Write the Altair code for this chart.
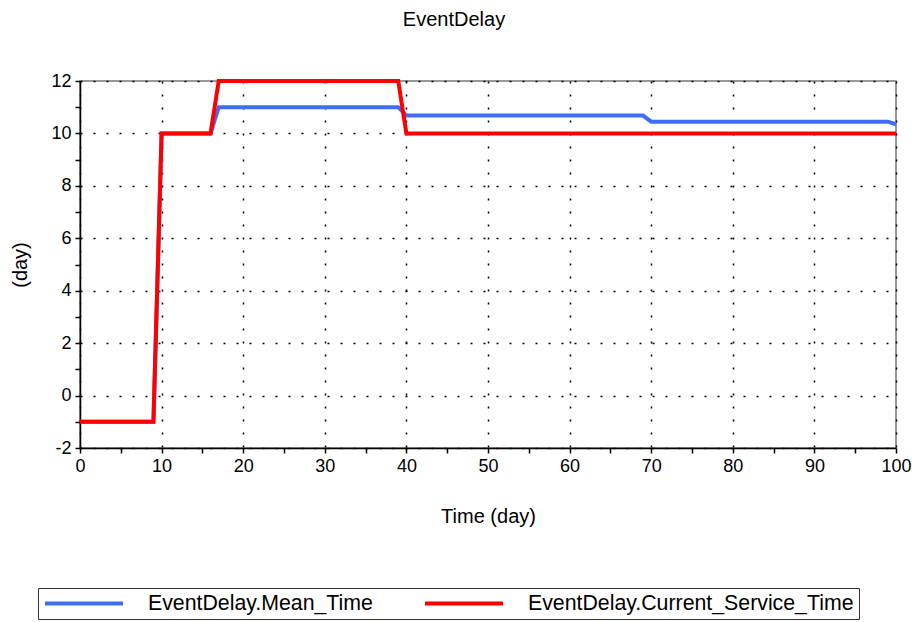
import altair as alt
import pandas as pd

# data
mean_t = [0, 9, 10, 16, 17, 39, 40, 69, 70, 99, 100]
mean_v = [-1, -1, 10, 10, 11, 11, 10.68, 10.68, 10.45, 10.45, 10.35]
cur_t = [0, 9, 10, 16, 17, 39, 40, 100]
cur_v = [-1, -1, 10, 10, 12, 12, 10, 10]
series = ["EventDelay.Mean_Time", "EventDelay.Current_Service_Time"]
colors = ["#3d6ef5", "#ff0000"]
x_ticks = list(range(0, 101, 5))
y_ticks = list(range(-2, 13, 1))

rows = [{"t": t, "v": v, "s": series[0], "o": i} for i, (t, v) in enumerate(zip(mean_t, mean_v))]
rows += [{"t": t, "v": v, "s": series[1], "o": i} for i, (t, v) in enumerate(zip(cur_t, cur_v))]
df = pd.DataFrame(rows)

FONT = "Liberation Sans"

chart = alt.Chart(df).mark_line(strokeWidth=4).encode(
    x=alt.X("t:Q", scale=alt.Scale(domain=[0, 100], nice=False),
            axis=alt.Axis(values=x_ticks, title="Time (day)",
                          labelExpr="datum.value % 10 === 0 ? toString(datum.value) : ''",
                          gridOpacity={"condition": {"test": "datum.value % 10 === 0", "value": 1}, "value": 0},
                          labelFlush=False, titlePadding=31)),
    y=alt.Y("v:Q", scale=alt.Scale(domain=[-2, 12], nice=False),
            axis=alt.Axis(values=y_ticks, title="(day)",
                          labelExpr="datum.value % 2 === 0 ? toString(datum.value) : ''",
                          gridOpacity={"condition": {"test": "datum.value % 2 === 0", "value": 1}, "value": 0},
                          labelFlush=False, titlePadding=20)),
    color=alt.Color("s:N", scale=alt.Scale(domain=series, range=colors),
                    legend=alt.Legend(title=None, orient="none", legendX=-42, legendY=507,
                                      direction="horizontal", symbolType="stroke",
                                      symbolSize=6084, symbolStrokeWidth=4, clipHeight=21,
                                      labelOffset=23, columnPadding=50, labelLimit=0,
                                      labelFontSize=21.3, labelFont=FONT, labelColor="black",
                                      strokeColor="#333", padding=5)),
    order="o:Q",
).properties(
    width=816, height=367,
    title=alt.TitleParams("EventDelay", fontSize=20, font=FONT, fontWeight="normal",
                          dx=-34, offset=42),
    autosize=alt.AutoSizeParams(type="none"),
    padding={"left": 72, "top": 73, "right": 16, "bottom": 172},
).configure_view(
    stroke="#777", strokeWidth=1.5
).configure_axis(
    labelFont=FONT, labelFontSize=18, labelColor="black",
    titleFont=FONT, titleFontSize=20, titleFontWeight="normal", titleColor="black",
    domainColor="black", domainWidth=1.5, tickColor="black", tickSize=5, tickWidth=1.5,
    gridColor="black", gridDash=[2, 11], gridWidth=1.5, labelPadding=4,
)

chart.save("out.html", embed_options={"renderer": "svg", "actions": False})
